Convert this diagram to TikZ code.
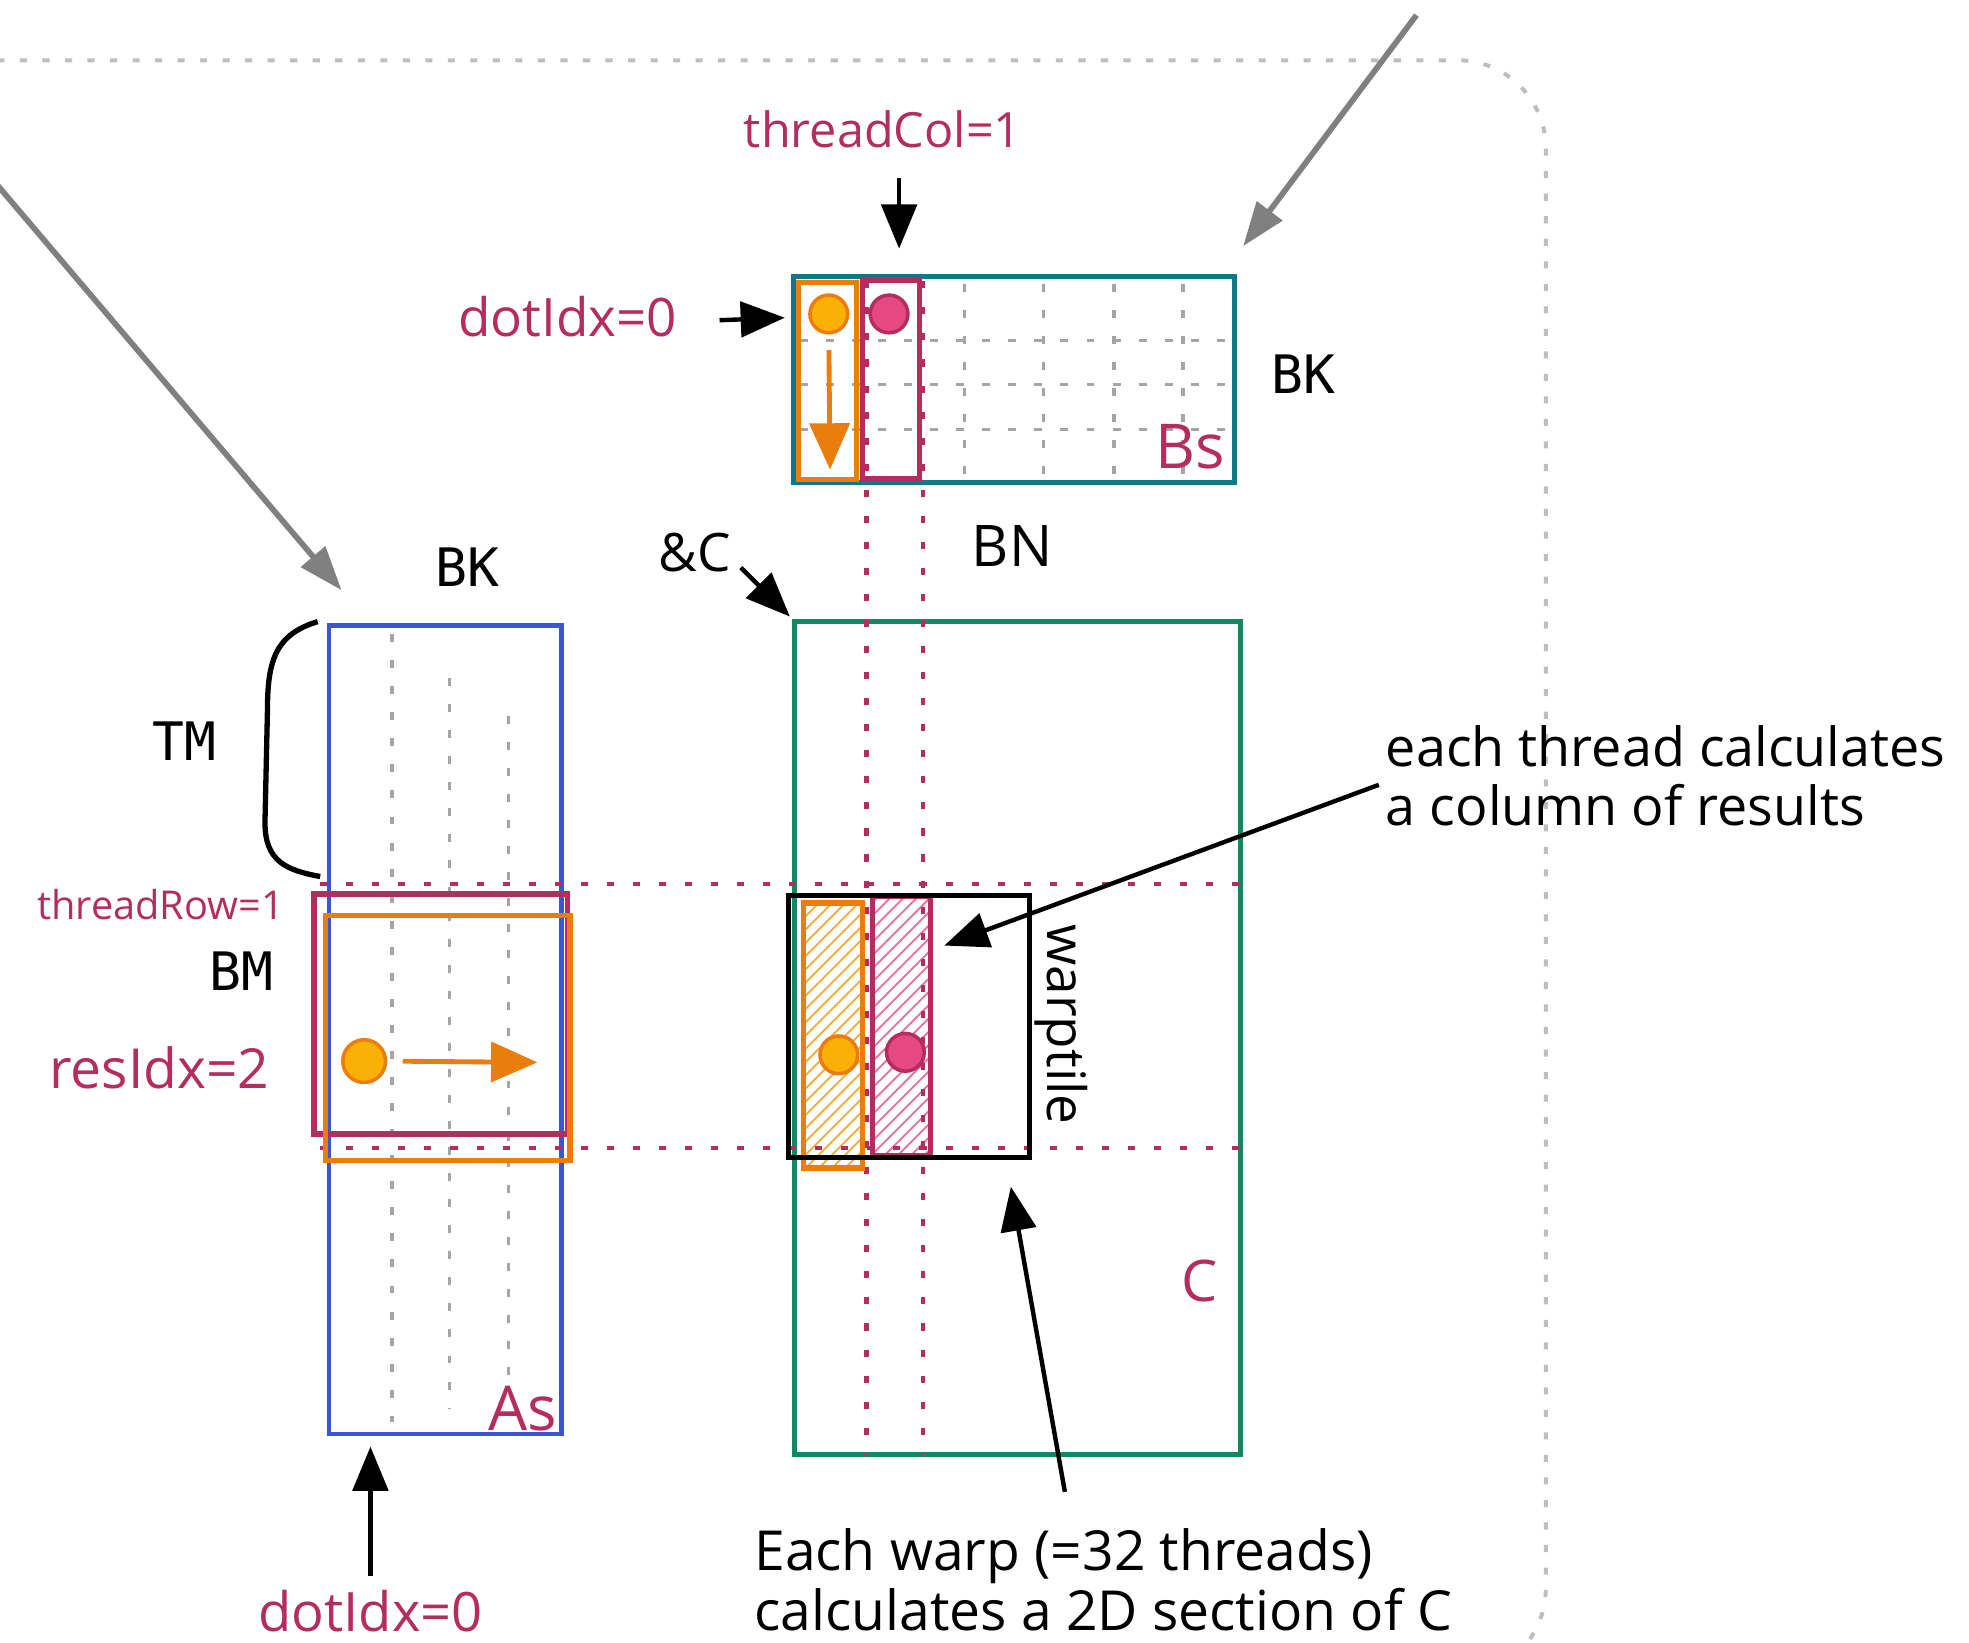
\documentclass[tikz,border=0pt]{standalone}
\usepackage{fontspec}
\setmainfont{Open Sans}
\newfontfamily\dimfont{DejaVu Sans Mono}
\usetikzlibrary{arrows.meta,patterns}
\definecolor{idxmagenta}{RGB}{180,45,95}
\definecolor{bsteal}{RGB}{16,118,138}
\definecolor{asblue}{RGB}{59,85,215}
\definecolor{cgreen}{RGB}{20,135,100}
\definecolor{tileorange}{RGB}{235,125,15}
\definecolor{dotyellow}{RGB}{250,176,5}
\definecolor{dotpink}{RGB}{230,73,128}
\definecolor{gridgray}{RGB}{165,165,165}
\definecolor{framegray}{RGB}{190,190,190}
\definecolor{hatchorange}{RGB}{245,170,50}
\definecolor{hatchpink}{RGB}{230,110,155}

\tikzset{
  hand/.style={font=\fontsize{12}{13.4}\selectfont, align=left, inner sep=0pt},
  idx/.style={hand, text=idxmagenta},
  dimlabel/.style={font=\dimfont\fontsize{12}{14}\selectfont, inner sep=0pt},
  mat/.style={line width=1.1pt},
  tile/.style={line width=1.2pt},
  gridline/.style={gridgray, line width=0.8pt, dash pattern=on 1.8pt off 4.1pt},
  threadline/.style={idxmagenta, line width=1pt, dash pattern=on 1.6pt off 4.3pt},
  blackarrow/.style={-{Triangle[length=10pt,width=8pt]}, line width=1pt},
  grayarrow/.style={-{Triangle[length=10pt,width=7pt]}, line width=1.3pt, gray},
  orangearrow/.style={-{Triangle[length=10.5pt,width=9pt]}, line width=1.1pt, tileorange},
  dot/.style={circle, minimum size=0.3cm, inner sep=0pt, line width=0.8pt}
}

\begin{document}
\begin{tikzpicture}[x=0.01cm,y=-0.01cm]
    \useasboundingbox (0,0) rectangle (1568,1308);

    % Frame
    \draw[framegray, line width=0.9pt, dash pattern=on 1.6pt off 3.5pt, rounded corners=0.7cm]
        (-20,48) -- (1231,48) -- (1231,1335) -- (1100,1335);

    % Hatched thread columns in C
    \fill[pattern=north east lines, pattern color=hatchorange] (640,719) rectangle (687,930);
    \fill[pattern=north east lines, pattern color=hatchpink] (695,714) rectangle (741,920);

    % Matrices
    \draw[bsteal, mat] (632,220) rectangle (983,384);
    \draw[asblue, mat] (262,498) rectangle (447,1142);
    \draw[cgreen, mat] (633,495) rectangle (988,1158);

    % Grid of Bs
    \draw[gridline] (637,271) -- (980,271);
    \draw[gridline] (637,306) -- (980,306);
    \draw[gridline] (637,342) -- (980,342);
    \draw[gridline] (768,226) -- (768,382);
    \draw[gridline] (831,226) -- (831,382);
    \draw[gridline] (887,226) -- (887,382);
    \draw[gridline] (942,226) -- (942,382);

    % Grid of As
    \draw[gridline] (312,505) -- (312,1132);
    \draw[gridline] (358,540) -- (358,1122);
    \draw[gridline] (405,570) -- (405,1096);

    % Thread row and column guides
    \draw[threadline] (690,224) -- (690,1158);
    \draw[threadline] (735,224) -- (735,1158);
    \draw[threadline] (255,704) -- (987,704);
    \draw[threadline] (255,914) -- (987,914);

    % Thread tiles
    \draw[tileorange, tile] (636,225) rectangle (682,382);
    \draw[idxmagenta, tile] (687,223) rectangle (732,381);
    \draw[idxmagenta, tile] (250,712) rectangle (452,903);
    \draw[tileorange, tile] (259,729) rectangle (454,924);
    \draw[tileorange, tile] (640,719) rectangle (687,930);
    \draw[idxmagenta, tile] (695,714) rectangle (741,920);
    \draw[black, mat] (628,713) rectangle (820,922);

    % Dots
    \node[dot, fill=dotyellow, draw=tileorange] (bsdot) at (660,250) {};
    \node[dot, fill=dotpink, draw=idxmagenta] (bsdotb) at (708,250) {};
    \node[dot, fill=dotyellow, draw=tileorange, minimum size=0.34cm] (asdot) at (290,845) {};
    \node[dot, fill=dotyellow, draw=tileorange] (cdot) at (668,840) {};
    \node[dot, fill=dotpink, draw=idxmagenta] (cdotb) at (721,838) {};

    % Orange arrows
    \coordinate (bsdotend) at (661,374);
    \coordinate (asdotend) at (428,846);
    \draw[orangearrow, shorten <=3.5pt] (bsdot.south) -- (bsdotend);
    \draw[orangearrow, shorten <=3.5pt] (asdot.east) -- (asdotend);

    % Brace
    \draw[line width=1.2pt] (253,495) .. controls (220,505) and (213,525) .. (213,565)
        -- (211,655) .. controls (211,686) and (228,693) .. (255,698);

    % Labels
    \node[dimlabel] (bktop) at (1038,298) {BK};
    \node[dimlabel] (bkleft) at (372,452) {BK};
    \node[dimlabel] (tm) at (147,590) {TM};
    \node[dimlabel] (bm) at (192,773) {BM};
    \node[hand, font=\fontsize{13}{15}\selectfont] (bn) at (806,435) {BN};
    \node[hand, font=\fontsize{12}{14}\selectfont] (cptr) at (553,440) {\&C};

    \node[idx, font=\fontsize{11}{13}\selectfont] (tcol) at (703,103) {threadCol=1};
    \node[idx] (dtop) at (452,252) {dotIdx=0};
    \node[idx, font=\fontsize{9}{11}\selectfont] (trow) at (128,720) {threadRow=1};
    \node[idx, font=\fontsize{12.5}{14}\selectfont] (residx) at (127,850) {resIdx=2};
    \node[idx, font=\fontsize{12.3}{14}\selectfont] (dbot) at (295,1283) {dotIdx=0};
    \node[idx, font=\fontsize{14}{16}\selectfont] (bsname) at (948,356) {Bs};
    \node[idx, font=\fontsize{14}{16}\selectfont] (asname) at (416,1122) {As};
    \node[idx, font=\fontsize{13}{15}\selectfont] (cname) at (955,1020) {C};
    \node[hand, rotate=-90] (wtile) at (845,816) {warptile};

    \node[hand, anchor=west, font=\fontsize{12.2}{13.4}\selectfont] (colnote) at (1103,618)
        {each thread calculates\\a column of results};
    \node[hand, anchor=west, font=\fontsize{12.5}{13.4}\selectfont] (warpnote) at (600,1258)
        {Each warp (=32 threads)\\calculates a 2D section of C};

    % Arrows
    \coordinate (gl1) at (-5,144);
    \coordinate (gl2) at (272,470);
    \coordinate (gr1) at (1128,12);
    \coordinate (gr2) at (990,196);
    \draw[grayarrow] (gl1) -- (gl2);
    \draw[grayarrow] (gr1) -- (gr2);

    \coordinate (tcolend) at (716,198);
    \coordinate (dtopend) at (625,253);
    \coordinate (cptrend) at (629,491);
    \coordinate (colend) at (752,753);
    \coordinate (warpend) at (805,945);
    \coordinate (dbotend) at (295,1152);
    \draw[blackarrow] (716,142) -- (tcolend);
    \draw[blackarrow] (573,255) -- (dtopend);
    \draw[blackarrow] (590,452) -- (cptrend);
    \draw[blackarrow] (1098,625) -- (colend);
    \draw[blackarrow] (848,1188) -- (warpend);
    \draw[blackarrow] (295,1255) -- (dbotend);
\end{tikzpicture}
\end{document}
